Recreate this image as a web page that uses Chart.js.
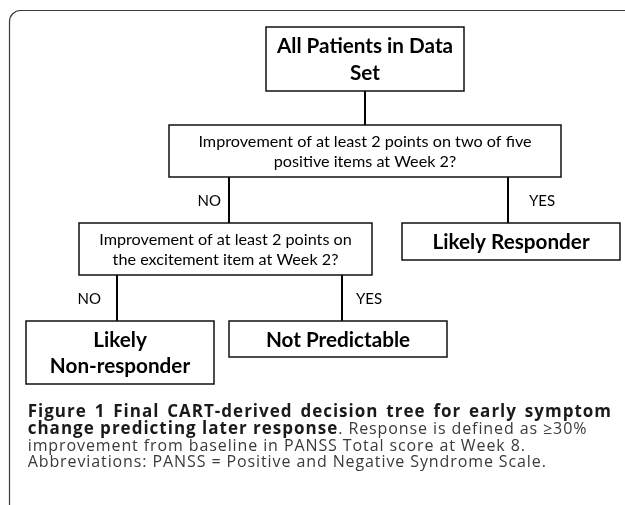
<!DOCTYPE html>
<html>
<head>
<meta charset="utf-8">
<script src="https://cdn.jsdelivr.net/npm/chart.js@4.4.1/dist/chart.umd.min.js"></script>
<style>
  html, body { margin: 0; padding: 0; background: #fff; }
  canvas { display: block; }
</style>
</head>
<body>
<canvas id="FlowChart" width="625" height="505"></canvas>
<script>
// tree content
const nodeText = [
  ['All Patients in Data', 'Set'],
  ['Improvement of at least 2 points on two of five', 'positive items at Week 2?'],
  ['Improvement of at least 2 points on', 'the excitement item at Week 2?'],
  ['Likely Responder'],
  ['Likely', 'Non-responder'],
  ['Not Predictable']
];
const edgeFrom = [0, 1, 1, 2, 2];
const edgeTo = [1, 2, 3, 4, 5];
const edgeLabel = ['', 'NO', 'YES', 'NO', 'YES'];

const captionRuns = [
  [['Figure 1 Final CART-derived decision tree for early symptom', true]],
  [['change predicting later response', true], ['. Response is defined as \u226530%', false]],
  [['improvement from baseline in PANSS Total score at Week 8.', false]],
  [['Abbreviations: PANSS = Positive and Negative Syndrome Scale.', false]]
];

// layout (scale units == px, since axes are hidden)
const boxes = [
  {x0: 266, x1: 464, y0: 27, y1: 91, bold: true},
  {x0: 169, x1: 561, y0: 125, y1: 177},
  {x0: 79, x1: 372, y0: 223, y1: 275},
  {x0: 402, x1: 620, y0: 223, y1: 260, bold: true},
  {x0: 26, x1: 214, y0: 321, y1: 384, bold: true},
  {x0: 229, x1: 447, y0: 321, y1: 357, bold: true}
];
const edgeX = [365, 229, 508, 117, 342];
const labelX = [0, 221, 529, 101, 356];

const edgeSets = edgeFrom.map((f, i) => ({
  label: edgeLabel[i],
  data: [{x: edgeX[i], y: boxes[f].y1}, {x: edgeX[i], y: boxes[edgeTo[i]].y0}],
  showLine: true,
  borderColor: '#000',
  borderWidth: 2,
  pointRadius: 0
}));

const flowPlugin = {
  id: 'flow',
  beforeDraw(chart) {
    const ctx = chart.ctx;
    ctx.save();
    ctx.fillStyle = '#fff';
    ctx.fillRect(0, 0, chart.width, chart.height);
    ctx.beginPath();
    ctx.roundRect(9.5, 10.5, 700, 600, 11);
    ctx.strokeStyle = '#3a3a3a';
    ctx.lineWidth = 1.2;
    ctx.stroke();
    ctx.restore();
  },
  afterDatasetsDraw(chart) {
    const ctx = chart.ctx;
    const xs = chart.scales.x, ys = chart.scales.y;
    ctx.save();
    boxes.forEach((b, i) => {
      const l = xs.getPixelForValue(b.x0), r = xs.getPixelForValue(b.x1);
      const t = ys.getPixelForValue(b.y0), btm = ys.getPixelForValue(b.y1);
      ctx.fillStyle = '#fff';
      ctx.fillRect(l, t, r - l, btm - t);
      ctx.strokeStyle = '#111';
      ctx.lineWidth = 1.5;
      ctx.strokeRect(l, t, r - l, btm - t);
      const lines = nodeText[i];
      const gap = b.bold ? 26.5 : 20.3;
      ctx.font = b.bold ? 'bold 20.7px Lato' : '16.2px Lato';
      ctx.fillStyle = '#000';
      ctx.textAlign = 'center';
      ctx.textBaseline = 'middle';
      const cy = (t + btm) / 2 - (lines.length - 1) * gap / 2;
      lines.forEach((s, k) => ctx.fillText(s, (l + r) / 2, cy + k * gap + 1));
    });

    // branch labels
    ctx.font = '15px Lato';
    edgeLabel.forEach((s, i) => {
      if (!s) return;
      const y = ys.getPixelForValue((boxes[edgeFrom[i]].y1 + boxes[edgeTo[i]].y0) / 2);
      ctx.textAlign = s === 'NO' ? 'right' : 'left';
      ctx.fillText(s, xs.getPixelForValue(labelX[i]), y + 1);
    });

    // caption
    ctx.textAlign = 'left';
    const capY = [412, 429, 446, 462.5];
    const setFont = bold => {
      ctx.font = bold ? 'bold 17px "Open Sans"' : '16px "Open Sans"';
      ctx.letterSpacing = bold ? '1px' : '0.9px';
      ctx.fillStyle = bold ? '#1a1a1a' : '#3a3a3a';
    };
    captionRuns.forEach((runs, li) => {
      let x = 27.7;
      if (li === 0) {
        // justified first line
        const words = runs[0][0].split(' ');
        setFont(true);
        const total = words.reduce((a, w) => a + ctx.measureText(w).width, 0);
        const sp = (612 - 27.7 - total) / (words.length - 1);
        words.forEach(w => { ctx.fillText(w, x, capY[li]); x += ctx.measureText(w).width + sp; });
        return;
      }
      runs.forEach(([s, bold]) => {
        setFont(bold);
        ctx.fillText(s, x, capY[li]);
        x += ctx.measureText(s).width;
      });
    });
    ctx.restore();
  }
};

new Chart(document.getElementById('FlowChart').getContext('2d'), {
  type: 'scatter',
  data: { datasets: edgeSets },
  options: {
    responsive: false,
    animation: false,
    layout: { padding: 0 },
    plugins: { legend: { display: false }, tooltip: { enabled: false } },
    scales: {
      x: { type: 'linear', min: 0, max: 625, display: false },
      y: { type: 'linear', min: 0, max: 505, reverse: true, display: false }
    }
  },
  plugins: [flowPlugin]
});
</script>
</body>
</html>
